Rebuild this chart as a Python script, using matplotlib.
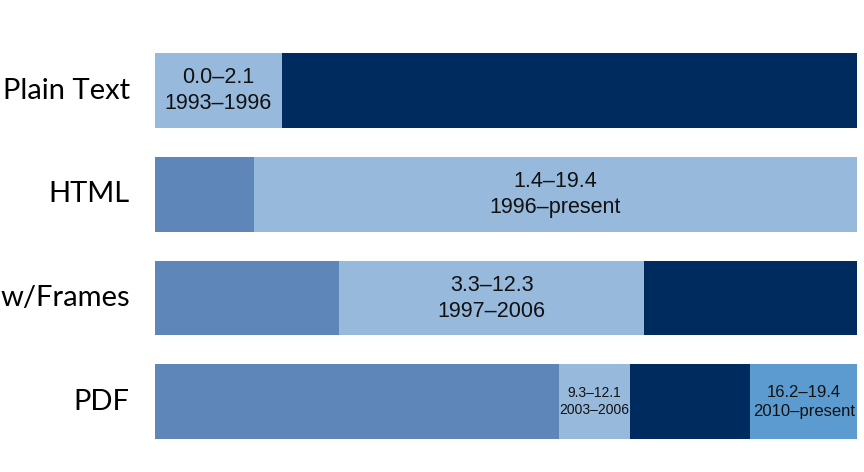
import matplotlib
matplotlib.use('Agg')
import matplotlib.pyplot as plt

# Row names, top to bottom
rows = ['Plain Text', 'HTML', 'w/Frames', 'PDF']

# Segment boundaries along the timeline (percent of bar length)
plain_edges = [0, 18.05, 100]
html_edges = [0, 14.1, 100]
frames_edges = [0, 26.2, 69.7, 100]
pdf_edges = [0, 57.5, 67.7, 84.8, 100]

MED = '#5E86B9'; LIGHT = '#96B9DC'; DARK = '#002B5E'; BRIGHT = '#5B9BD0'

plain_colors = [LIGHT, DARK]
html_colors = [MED, LIGHT]
frames_colors = [MED, LIGHT, DARK]
pdf_colors = [MED, LIGHT, DARK, BRIGHT]

plain_labels = ['0.0\u20132.1\n1993\u20131996', '']
html_labels = ['', '1.4\u201319.4\n1996\u2013present']
frames_labels = ['', '3.3\u201312.3\n1997\u20132006', '']
pdf_labels = ['', '9.3\u201312.1\n2003\u20132006', '', '16.2\u201319.4\n2010\u2013present']

edges = [plain_edges, html_edges, frames_edges, pdf_edges]
colors = [plain_colors, html_colors, frames_colors, pdf_colors]
labels = [plain_labels, html_labels, frames_labels, pdf_labels]
sizes = [15.5, 15.5, 15.5, 10]

fig = plt.figure(figsize=(8.64, 4.72), dpi=100)
ax = fig.add_axes([155/864, 0.0388, 702/864, 0.879])

for i in range(len(rows)):
    e = edges[i]
    for j in range(len(e)-1):
        ax.barh(i, e[j+1]-e[j], left=e[j], height=0.72, color=colors[i][j], linewidth=0)
        if labels[i][j]:
            fs = sizes[i]
            if i == 3 and j == 3: fs = 12
            ax.text((e[j]+e[j+1])/2, i, labels[i][j], ha='center', va='center',
                    fontsize=fs, family='Liberation Sans', color='#111111', linespacing=1.3)
    ax.text(-3.6, i, rows[i], ha='right', va='center',
            fontsize=21, family='Lato', color='black')

ax.set_xlim(0, 100)
ax.set_ylim(3.5, -0.5)
ax.axis('off')

fig.savefig('out.png', dpi=100)
